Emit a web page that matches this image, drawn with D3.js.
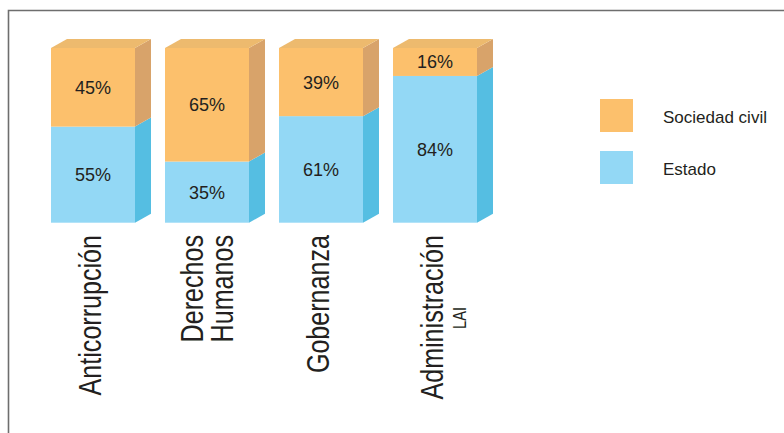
<!DOCTYPE html>
<html>
<head>
<meta charset="utf-8">
<script src="https://cdn.jsdelivr.net/npm/d3@7/dist/d3.min.js"></script>
<style>
  html, body { margin: 0; padding: 0; background: #fff; }
  svg { display: block; }
</style>
</head>
<body>
<svg id="chart" width="784" height="433"></svg>
<script>
const categories = ["Anticorrupción", "Derechos|Humanos", "Gobernanza", "Administración"];
const subLabels = ["", "", "", "LAI"];
const sociedadCivil = [45, 65, 39, 16];
const estado = [55, 35, 61, 84];
const seriesNames = ["Sociedad civil", "Estado"];

const svg = d3.select("#chart");
const W = 784, H = 433;

const colors = {
  orange: { front: "#FCC06C", top: "#EDBA6E", side: "#D8A36A" },
  blue:   { front: "#93D8F5", top: "#7CCDEE", side: "#55BEE2" }
};

// frame
svg.append("path")
  .attr("d", `M8.5,${H} L8.5,10.5 L${W},10.5`)
  .attr("fill", "none").attr("stroke", "#6e6e6e").attr("stroke-width", 1.6);

const x = d3.scaleBand().domain(categories).range([51, 477]).paddingInner(30/114).paddingOuter(0);
const y = d3.scaleLinear().domain([0, 100]).range([222.7, 48]);
const dx = 16, dy = 9;
const w = x.bandwidth();

const data = categories.map((c, i) => ({
  cat: c, sub: subLabels[i],
  segs: [
    { key: "blue", v0: 0, v1: estado[i], val: estado[i] },
    { key: "orange", v0: estado[i], v1: 100, val: sociedadCivil[i] }
  ]
}));

const g = svg.append("g");
const bars = g.selectAll("g.bar").data(data).join("g").attr("class", "bar");

bars.each(function(d) {
  const gb = d3.select(this);
  const x0 = x(d.cat);
  d.segs.forEach(s => {
    const yb = y(s.v0), yt = y(s.v1);
    gb.append("path")
      .attr("d", `M${x0 + w},${yb} L${x0 + w + dx},${yb - dy} L${x0 + w + dx},${yt - dy} L${x0 + w},${yt} Z`)
      .attr("fill", colors[s.key].side);
    gb.append("rect")
      .attr("x", x0).attr("y", yt).attr("width", w).attr("height", yb - yt)
      .attr("fill", colors[s.key].front);
    gb.append("text")
      .attr("x", x0 + w / 2).attr("y", (yb + yt) / 2 + 6.5)
      .attr("text-anchor", "middle")
      .attr("font-family", "Liberation Sans, Arial, sans-serif")
      .attr("font-size", 18)
      .attr("fill", "#231f20")
      .text(s.val + "%");
  });
  const yt = y(100);
  gb.append("path")
    .attr("d", `M${x0},${yt} L${x0 + w},${yt} L${x0 + w + dx},${yt - dy} L${x0 + dx},${yt - dy} Z`)
    .attr("fill", colors.orange.top);

  const lines = d.cat.split("|");
  const cx = x0 + w / 2;
  const lineGap = 30;
  lines.forEach((ln, li) => {
    const bx = (lines.length === 1 ? cx + 8 : cx - 4 + li * lineGap);
    gb.append("text")
      .attr("transform", `translate(${bx},235) rotate(-90) scale(0.81,1)`)
      .attr("text-anchor", "end")
      .attr("font-family", "Liberation Sans, Arial, sans-serif")
      .attr("font-size", 31)
      .attr("fill", "#231f20")
      .text(ln);
  });
  if (d.sub) {
    gb.append("text")
      .attr("transform", `translate(${cx + 8 + 23},318) rotate(-90) scale(0.81,1)`)
      .attr("text-anchor", "middle")
      .attr("font-family", "Liberation Sans, Arial, sans-serif")
      .attr("font-size", 18)
      .attr("fill", "#231f20")
      .text(d.sub);
  }
});

// legend
const legend = svg.append("g");
const legendItems = [
  { name: seriesNames[0], color: colors.orange.front },
  { name: seriesNames[1], color: colors.blue.front }
];
const ly = d3.scaleBand().domain(legendItems.map(d => d.name)).range([99, 184]).paddingInner(19/52).paddingOuter(0);
legend.selectAll("rect").data(legendItems).join("rect")
  .attr("x", 600).attr("y", d => ly(d.name)).attr("width", 33).attr("height", 33)
  .attr("fill", d => d.color);
legend.selectAll("text").data(legendItems).join("text")
  .attr("x", 663).attr("y", d => ly(d.name) + 23.5)
  .attr("font-family", "Liberation Sans, Arial, sans-serif")
  .attr("font-size", 17)
  .attr("fill", "#231f20")
  .text(d => d.name);
</script>
</body>
</html>
